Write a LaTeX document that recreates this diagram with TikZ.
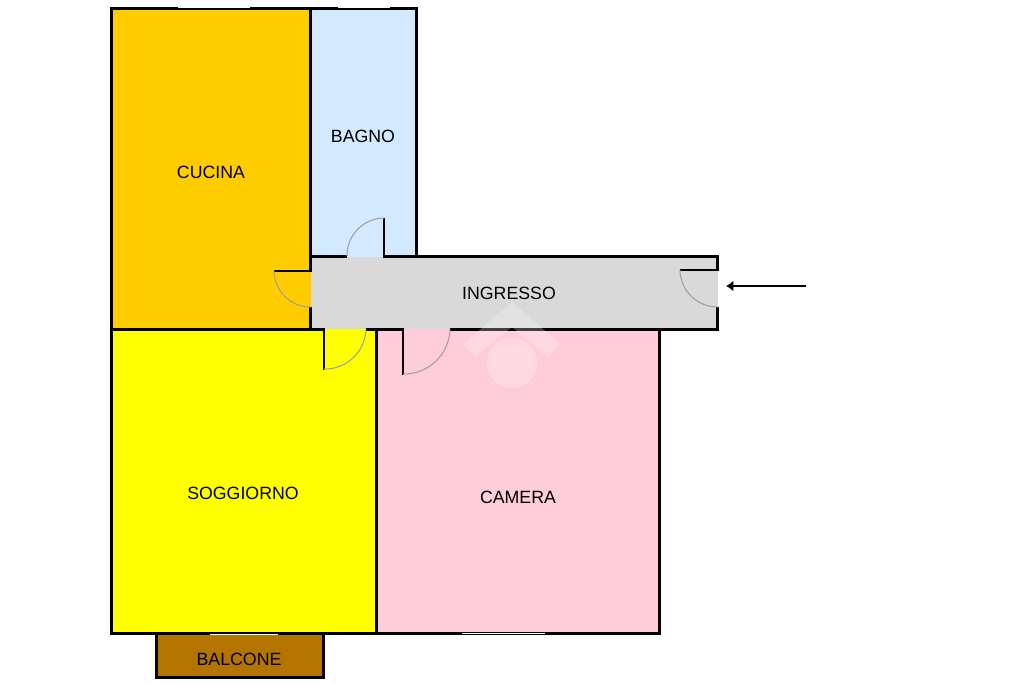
\documentclass[tikz,border=0pt]{standalone}
\usepackage{fontspec}
\usetikzlibrary{arrows.meta}
\setmainfont{Liberation Sans}
\definecolor{cucinacol}{HTML}{FFCC00}
\definecolor{bagnocol}{HTML}{D2E9FF}
\definecolor{ingressocol}{HTML}{D9D9D9}
\definecolor{soggiornocol}{HTML}{FFFF00}
\definecolor{cameracol}{HTML}{FFCCD9}
\definecolor{balconecol}{HTML}{B37400}
\definecolor{doorcol}{HTML}{A0A0A0}
\tikzset{
  doorarc/.style={draw=doorcol,line width=0.6pt},
  roomlabel/.style={font=\fontsize{10.1}{12}\selectfont,inner sep=0pt},
}
\begin{document}
\begin{tikzpicture}[x=0.02cm,y=-0.02cm]
      \useasboundingbox (0,0) rectangle (1024,682);

      % Room fills
      \fill[cucinacol] (112,9) rectangle (311,329);
      \fill[bagnocol] (311,9) rectangle (416,257);
      \fill[ingressocol] (311,257) rectangle (718,329);
      \fill[soggiornocol] (112,329) rectangle (377,633);
      \fill[cameracol] (377,329) rectangle (659,633);
      \fill[balconecol] (157,634) rectangle (323,677);

      % Walls and door leaves
      \foreach \xa/\ya/\xb/\yb in {110/7/418/10, 110/7/113/635, 415/7/418/258, 309/7/312/271,
          309/255/347/258, 383/255/719/258, 716/255/719/271, 716/307/719/331,
          450/328/719/331, 366/328/404/331, 110/328/325/331, 309/307/312/331,
          375/328/378/635, 658/328/661/635, 110/632/661/635,
          155/635/158/679, 322/635/325/679, 155/676/325/679,
          383/218/385/258, 274/270/312/272, 323/328/325/370, 402/328/404/375, 680/269/719/271} {
          \fill[black] (\xa,\ya) rectangle (\xb,\yb);
      }

      % Door swings
      \foreach \ax/\ay/\bx/\by in {384/218/347/256, 274/271/311/307, 324/369/366/329, 403/374/450/329, 680/270/718/307} {
          \draw[doorarc] (\ax,\ay) to[bend right=45] (\bx,\by);
      }

      % Windows
      \foreach \xa/\xb/\y in {178/250/7, 338/390/7, 210/278/634, 462/545/633} {
          \fill[white] (\xa,\y) rectangle (\xb,\y+1);
      }

      % Faint mark over the plan
      \fill[white,opacity=0.25] (512,302) -- (560,344) -- (548,357) -- (512,327) -- (475,357) -- (463,344) -- cycle;
      \fill[white,opacity=0.25] (512,363) circle (25);

      % Room names
      \node[roomlabel] (cucina) at (211,172) {CUCINA};
      \node[roomlabel] (bagno) at (363,136) {BAGNO};
      \node[roomlabel] (ingresso) at (509,293) {INGRESSO};
      \node[roomlabel] (soggiorno) at (243,493) {SOGGIORNO};
      \node[roomlabel] (camera) at (518,497) {CAMERA};
      \node[roomlabel] (balcone) at (239,659) {BALCONE};

      % Entrance arrow
      \coordinate (arrowstart) at (806,286);
      \coordinate (arrowend) at (726,286);
      \draw[line width=1pt,-{Latex[length=4.2pt,width=6.2pt]}] (arrowstart) -- (arrowend);
\end{tikzpicture}
\end{document}
